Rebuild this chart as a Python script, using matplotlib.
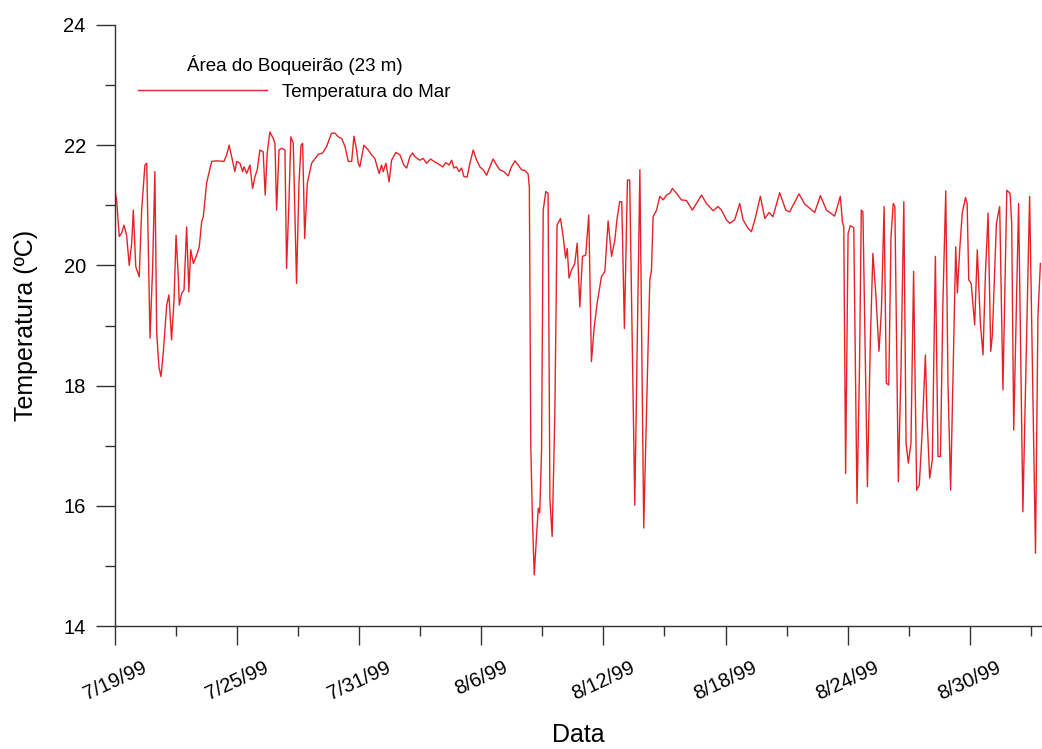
import numpy as np
import matplotlib
matplotlib.use('Agg')
import matplotlib.pyplot as plt

plt.rcParams['font.family'] = ['Liberation Sans', 'DejaVu Sans']

# days since 7/19/99 and sea temperature (ºC)
days = [0.00, 0.08, 0.21, 0.33, 0.44, 0.57, 0.70, 0.82, 0.90, 1.02, 1.19, 1.31, 1.47, 1.56,
        1.72, 1.85, 1.96, 2.05, 2.16, 2.26, 2.37, 2.54, 2.65, 2.78, 2.90, 3.00, 3.11, 3.16,
        3.28, 3.39, 3.52, 3.63, 3.72, 3.85, 4.01, 4.14, 4.26, 4.34, 4.50, 4.75, 5.00, 5.35,
        5.49, 5.61, 5.73, 5.89, 5.98, 6.14, 6.27, 6.34, 6.47, 6.63, 6.76, 6.88, 6.99, 7.12,
        7.28, 7.38, 7.48, 7.61, 7.78, 7.86, 7.94, 8.06, 8.19, 8.35, 8.43, 8.55, 8.64, 8.76,
        8.92, 9.04, 9.14, 9.22, 9.32, 9.45, 9.66, 9.99, 10.20, 10.40, 10.64, 10.81, 10.97,
        11.14, 11.30, 11.46, 11.63, 11.74, 11.87, 11.95, 12.03, 12.23, 12.44, 12.61, 12.77,
        12.88, 12.98, 13.10, 13.18, 13.31, 13.47, 13.59, 13.80, 14.00, 14.19, 14.33, 14.49,
        14.62, 14.73, 14.98, 15.14, 15.31, 15.51, 15.67, 15.83, 16.10, 16.26, 16.42, 16.54,
        16.65, 16.78, 16.91, 17.03, 17.14, 17.30, 17.44, 17.60, 17.77, 17.93, 18.09, 18.26,
        18.42, 18.58, 18.75, 18.91, 19.11, 19.32, 19.48, 19.65, 19.81, 19.98, 20.14, 20.30,
        20.36, 20.43, 20.51, 20.60, 20.72, 20.80, 20.87, 20.96, 21.04, 21.17, 21.28, 21.37,
        21.48, 21.61, 21.72, 21.89, 22.02, 22.14, 22.22, 22.31, 22.43, 22.59, 22.71, 22.84,
        22.97, 23.13, 23.28, 23.41, 23.54, 23.69, 23.90, 24.07, 24.23, 24.40, 24.56, 24.67,
        24.80, 24.90, 25.03, 25.18, 25.29, 25.54, 25.79, 25.98, 26.19, 26.28, 26.36, 26.44,
        26.61, 26.77, 26.93, 27.10, 27.26, 27.39, 27.59, 27.83, 28.08, 28.37, 28.57, 28.82,
        29.06, 29.39, 29.63, 29.80, 30.04, 30.21, 30.45, 30.70, 30.86, 31.10, 31.27, 31.48,
        31.71, 31.93, 32.14, 32.33, 32.66, 32.96, 33.15, 33.61, 33.89, 34.14, 34.38, 34.66,
        34.96, 35.36, 35.64, 35.74, 35.81, 35.90, 36.02, 36.13, 36.30, 36.46, 36.58, 36.67,
        36.75, 36.97, 37.12, 37.24, 37.38, 37.54, 37.66, 37.79, 37.90, 38.02, 38.13, 38.24,
        38.32, 38.49, 38.62, 38.76, 38.87, 38.98, 39.11, 39.24, 39.39, 39.52, 39.65, 39.82,
        39.90, 40.03, 40.16, 40.31, 40.44, 40.56, 40.68, 40.82, 40.93, 41.06, 41.21, 41.31,
        41.39, 41.50, 41.63, 41.79, 41.87, 41.95, 42.07, 42.15, 42.24, 42.37, 42.52, 42.65,
        42.77, 42.90, 43.03, 43.11, 43.31, 43.47, 43.63, 43.82, 43.98, 44.06, 44.16, 44.40,
        44.61, 44.94, 45.23, 45.35, 45.47]
temp = [21.23, 21.09, 20.48, 20.54, 20.67, 20.50, 20.00, 20.37, 20.92, 19.98, 19.81, 20.92, 21.67, 21.70,
        18.79, 19.98, 21.56, 18.87, 18.31, 18.15, 18.54, 19.34, 19.51, 18.76, 19.42, 20.50, 19.81, 19.34,
        19.54, 19.59, 20.64, 19.56, 20.26, 20.03, 20.17, 20.31, 20.73, 20.81, 21.37, 21.73, 21.74, 21.73,
        21.84, 22.00, 21.81, 21.56, 21.73, 21.70, 21.56, 21.64, 21.53, 21.67, 21.28, 21.48, 21.59, 21.92,
        21.89, 21.17, 21.87, 22.22, 22.11, 22.03, 20.92, 21.92, 21.95, 21.92, 19.95, 21.09, 22.14, 22.03,
        19.70, 21.37, 22.00, 22.03, 20.45, 21.37, 21.70, 21.85, 21.87, 21.98, 22.20, 22.20, 22.14,
        22.11, 21.98, 21.73, 21.73, 22.15, 21.92, 21.70, 21.64, 22.00, 21.92, 21.84, 21.78,
        21.64, 21.53, 21.67, 21.56, 21.70, 21.39, 21.75, 21.88, 21.84, 21.67, 21.62, 21.81,
        21.87, 21.81, 21.75, 21.78, 21.70, 21.77, 21.73, 21.70, 21.64, 21.71, 21.67, 21.75,
        21.62, 21.64, 21.56, 21.62, 21.48, 21.47, 21.70, 21.92, 21.75, 21.64, 21.59, 21.50,
        21.64, 21.77, 21.67, 21.59, 21.56, 21.49, 21.64, 21.74, 21.67, 21.59, 21.58, 21.52,
        21.30, 17.00, 15.80, 14.85, 15.54, 15.96, 15.88, 16.93, 20.92, 21.23, 21.20, 16.10,
        15.49, 17.48, 20.67, 20.78, 20.48, 20.12, 20.28, 19.79, 19.92, 20.03, 20.37, 19.31,
        20.15, 20.17, 20.84, 18.40, 18.95, 19.37, 19.81, 19.90, 20.74, 20.15, 20.42, 20.78,
        21.06, 21.06, 18.95, 21.42, 21.42, 16.01, 21.59, 15.63, 18.59, 19.76, 19.92, 20.81,
        20.92, 21.15, 21.09, 21.17, 21.20, 21.28, 21.20, 21.09, 21.08, 20.92, 21.03, 21.17,
        21.03, 20.91, 20.98, 20.92, 20.76, 20.70, 20.76, 21.03, 20.76, 20.62, 20.56, 20.81,
        21.15, 20.78, 20.88, 20.81, 21.21, 20.92, 20.89, 21.19, 21.02, 20.95, 20.88, 21.16,
        20.92, 20.82, 21.15, 20.73, 20.64, 16.54, 20.53, 20.66, 20.63, 16.04, 18.26, 20.92,
        20.89, 16.32, 18.81, 20.20, 19.54, 18.57, 19.26, 20.98, 18.04, 18.01, 20.48, 21.03,
        20.98, 16.40, 18.26, 21.06, 17.04, 16.71, 17.04, 19.90, 16.26, 16.35, 17.15, 18.51,
        17.48, 16.46, 16.76, 20.15, 16.82, 16.82, 19.37, 21.24, 18.04, 16.26, 18.70, 20.31,
        19.54, 20.23, 20.87, 21.13, 21.03, 19.76, 19.70, 19.37, 19.01, 20.26, 19.04, 18.51,
        19.87, 20.87, 18.57, 18.84, 20.70, 20.98, 17.93, 21.25, 21.20, 20.70, 17.26, 21.03,
        15.90, 21.15, 15.21, 19.15, 20.03]

tick_days = [0, 6, 12, 18, 24, 30, 36, 42]
tick_labels = ['7/19/99', '7/25/99', '7/31/99', '8/6/99', '8/12/99', '8/18/99', '8/24/99', '8/30/99']

start = np.datetime64('1999-07-19T00:00')
t = start + (np.array(days) * 24 * 60).round().astype('timedelta64[m]')

fig = plt.figure(figsize=(10.42, 7.49), dpi=100)
ax = fig.add_axes([115 / 1042, 1 - 626 / 749, 1 - 115 / 1042, (626 - 25) / 749])

line, = ax.plot(t, temp, color='#e52228', lw=1.0, label='Temperatura do Mar')

ax.set_ylim(14, 24)
ax.set_yticks(np.arange(14, 25, 2))
ax.set_yticks(np.arange(15, 24, 2), minor=True)
ax.set_xlim(start, start + np.timedelta64(int(45.55 * 24 * 60), 'm'))
ax.set_xticks(start + np.array(tick_days).astype('timedelta64[D]'))
ax.set_xticks(start + np.arange(3, 46, 6).astype('timedelta64[D]'), minor=True)
ax.set_xticklabels(tick_labels, rotation=25, ha='center')

for s in ['top', 'right']:
    ax.spines[s].set_visible(False)
for s in ['left', 'bottom']:
    ax.spines[s].set_color('#333333')
    ax.spines[s].set_linewidth(1.0)

ax.tick_params(which='major', length=14, width=1.0, color='#333333', labelsize=14.5)
ax.tick_params(which='minor', length=7, width=1.0, color='#333333')
ax.tick_params(axis='x', which='major', pad=9)
ax.tick_params(axis='y', which='major', pad=7)

ax.set_ylabel('Temperatura (ºC)', fontsize=18, labelpad=18)
ax.set_xlabel('Data', fontsize=18, labelpad=14)

leg = ax.legend(handles=[line], title='Área do Boqueirão (23 m)', loc='upper left',
                bbox_to_anchor=(138 / 1042, 1 - 55 / 749), bbox_transform=fig.transFigure,
                frameon=False, fontsize=13.5, title_fontsize=13.5, handlelength=6.9,
                handletextpad=0.8, borderpad=0, borderaxespad=0, labelspacing=0.46)

fig.savefig('out.png', dpi=100)
